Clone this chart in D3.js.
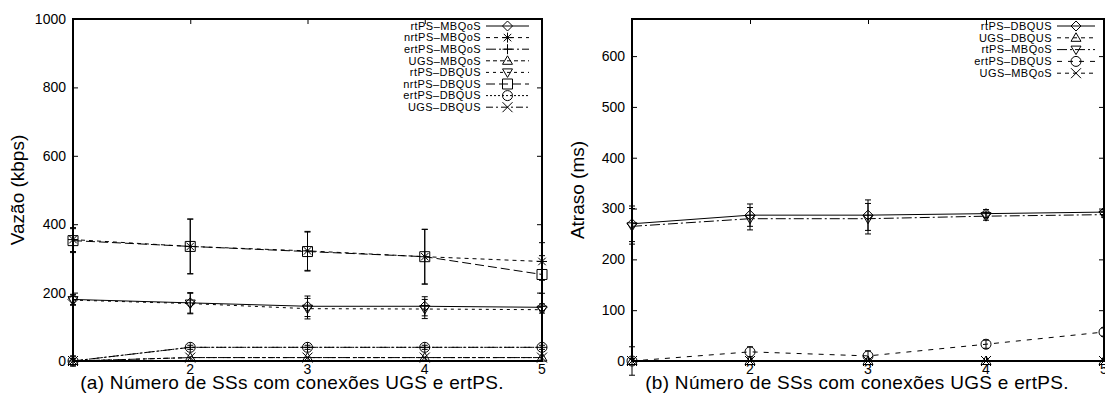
<!DOCTYPE html>
<html><head><meta charset="utf-8">
<script src="https://cdn.jsdelivr.net/npm/d3@7"></script>
<style>
html,body{margin:0;padding:0;background:#fff;}
svg{display:block;font-family:"Liberation Sans",Arial,Helvetica,sans-serif;}
</style></head>
<body><svg id="c" width="1105" height="394"></svg>
<script>
// ---------- data ----------
const xValues = [1, 2, 3, 4, 5];
const xTickLabels = [2, 3, 4, 5];
const yTicksA = [0, 200, 400, 600, 800, 1000];
const yTicksB = [0, 100, 200, 300, 400, 500, 600];

// Panel (a): Vazão (kbps)
const rtPS_MBQoS_a  = [180, 170, 160, 160, 157];
const nrtPS_MBQoS_a = [355, 335, 322, 305, 291];
const ertPS_MBQoS_a = [0, 40, 40, 40, 40];
const UGS_MBQoS_a   = [0, 10, 10, 10, 10];
const rtPS_DBQUS_a  = [178, 168, 153, 152, 150];
const nrtPS_DBQUS_a = [352, 335, 320, 305, 253];
const ertPS_DBQUS_a = [0, 40, 40, 40, 40];
const UGS_DBQUS_a   = [0, 10, 10, 10, 10];
const nrtPS_err_a   = [35, 80, 57, 80, 55];
const rtPS_err_a    = [15, 30, 30, 28, 10];
const small_err_a   = [15, 6, 6, 6, 6];

// Panel (b): Atraso (ms)
const rtPS_DBQUS_b  = [270, 287, 287, 290, 293];
const UGS_DBQUS_b   = [0, 0, 0, 0, 0];
const rtPS_MBQoS_b  = [265, 280, 280, 285, 288];
const ertPS_DBQUS_b = [0, 18, 10, 33, 57];
const UGS_MBQoS_b   = [0, 0, 0, 0, 0];
const rtPS_err_b    = [35, 22, 30, 8, 5];
const small_err_b   = [28, 10, 10, 8, 8];

const seriesA = [
  {name: "rtPS\u2013MBQoS",  v: rtPS_MBQoS_a,  dash: null,       sym: "diamond", err: rtPS_err_a},
  {name: "nrtPS\u2013MBQoS", v: nrtPS_MBQoS_a, dash: "4,4",      sym: "star",    err: nrtPS_err_a},
  {name: "ertPS\u2013MBQoS", v: ertPS_MBQoS_a, dash: "10,3,2,3", sym: "plus",    err: small_err_a},
  {name: "UGS\u2013MBQoS",   v: UGS_MBQoS_a,   dash: "4,3",      sym: "tri",     err: null},
  {name: "rtPS\u2013DBQUS",  v: rtPS_DBQUS_a,  dash: "3,4",      sym: "itri",    err: rtPS_err_a},
  {name: "nrtPS\u2013DBQUS", v: nrtPS_DBQUS_a, dash: "9,4",      sym: "square",  err: nrtPS_err_a},
  {name: "ertPS\u2013DBQUS", v: ertPS_DBQUS_a, dash: "2,2",      sym: "circle",  err: null},
  {name: "UGS\u2013DBQUS",   v: UGS_DBQUS_a,   dash: "7,3,2,3",  sym: "x",       err: null}
];
const seriesB = [
  {name: "rtPS\u2013DBQUS",  v: rtPS_DBQUS_b,  dash: null,       sym: "diamond", err: rtPS_err_b},
  {name: "UGS\u2013DBQUS",   v: UGS_DBQUS_b,   dash: "4,4",      sym: "tri",     err: null},
  {name: "rtPS\u2013MBQoS",  v: rtPS_MBQoS_b,  dash: "10,3,2,3", sym: "itri",    err: rtPS_err_b},
  {name: "ertPS\u2013DBQUS", v: ertPS_DBQUS_b, dash: "5,6",      sym: "circle",  err: small_err_b},
  {name: "UGS\u2013MBQoS",   v: UGS_MBQoS_b,   dash: "4,4",      sym: "x",       err: null}
];

// ---------- drawing ----------
const svg = d3.select("#c");

function symbol(g, type, x, y) {
  const s = 5;
  const p = d3.path();
  const el = g.append("path").attr("fill", "none").attr("stroke", "#000").attr("stroke-width", 1);
  switch (type) {
    case "diamond": p.moveTo(x, y - s); p.lineTo(x + s, y); p.lineTo(x, y + s); p.lineTo(x - s, y); p.closePath(); break;
    case "star": p.moveTo(x - s, y); p.lineTo(x + s, y); p.moveTo(x, y - s); p.lineTo(x, y + s);
      p.moveTo(x - s * .75, y - s * .75); p.lineTo(x + s * .75, y + s * .75); p.moveTo(x - s * .75, y + s * .75); p.lineTo(x + s * .75, y - s * .75); break;
    case "plus": p.moveTo(x - s, y); p.lineTo(x + s, y); p.moveTo(x, y - s); p.lineTo(x, y + s); break;
    case "tri": p.moveTo(x, y - s); p.lineTo(x + s, y + s * .7); p.lineTo(x - s, y + s * .7); p.closePath(); break;
    case "itri": p.moveTo(x, y + s); p.lineTo(x + s, y - s * .7); p.lineTo(x - s, y - s * .7); p.closePath(); break;
    case "square": p.rect(x - s, y - s, 2 * s, 2 * s); break;
    case "circle": p.arc(x, y, s, 0, 2 * Math.PI); break;
    case "x": p.moveTo(x - s, y - s); p.lineTo(x + s, y + s); p.moveTo(x - s, y + s); p.lineTo(x + s, y - s); break;
  }
  el.attr("d", p.toString());
}

function panel(opt) {
  const {x0, x1, y0, y1, yMax, yTicks, series, ylabel, xlabel, ylabelX, xlabelX, legendRight, sampleW, rowH} = opt;
  const x = d3.scaleLinear().domain([1, 5]).range([x0, x1]);
  const y = d3.scaleLinear().domain([0, yMax]).range([y1, y0]);
  const g = svg.append("g");

  // y axis (left, ticks inward)
  const yAxis = g.append("g").attr("transform", `translate(${x0},0)`)
    .call(d3.axisRight(y).tickValues(yTicks).tickSize(5).tickFormat(""));
  yAxis.select(".domain").remove();
  g.selectAll(null).data(yTicks).enter().append("text")
    .attr("x", x0 - 7).attr("y", d => y(d)).attr("dy", "0.35em")
    .attr("text-anchor", "end").attr("font-size", 14).text(d => d);
  // mirror ticks on right
  const yAxisR = g.append("g").attr("transform", `translate(${x1},0)`)
    .call(d3.axisLeft(y).tickValues(yTicks).tickSize(5).tickFormat(""));
  yAxisR.select(".domain").remove();
  // x axis ticks (bottom inward, top mirror)
  const xb = g.append("g").attr("transform", `translate(0,${y1})`)
    .call(d3.axisTop(x).tickValues(xValues).tickSize(5).tickFormat(""));
  xb.select(".domain").remove();
  const xt = g.append("g").attr("transform", `translate(0,${y0})`)
    .call(d3.axisBottom(x).tickValues(xValues).tickSize(5).tickFormat(""));
  xt.select(".domain").remove();
  g.selectAll(null).data(xTickLabels).enter().append("text")
    .attr("x", d => x(d)).attr("y", y1 + 13).attr("text-anchor", "middle")
    .attr("font-size", 14).text(d => d);

  // data
  const line = d3.line().x((d, i) => x(xValues[i])).y(d => y(d));
  series.forEach(s => {
    g.append("path").attr("d", line(s.v)).attr("fill", "none").attr("stroke", "#000")
      .attr("stroke-width", 1).attr("stroke-dasharray", s.dash);
    if (s.err) {
      s.v.forEach((v, i) => {
        const cx = x(xValues[i]);
        const lo = y(v - s.err[i]), hi = y(v + s.err[i]);
        g.append("line").attr("x1", cx).attr("x2", cx).attr("y1", lo).attr("y2", hi).attr("stroke", "#000");
        g.append("line").attr("x1", cx - 3).attr("x2", cx + 3).attr("y1", lo).attr("y2", lo).attr("stroke", "#000");
        g.append("line").attr("x1", cx - 3).attr("x2", cx + 3).attr("y1", hi).attr("y2", hi).attr("stroke", "#000");
      });
    }
    s.v.forEach((v, i) => symbol(g, s.sym, x(xValues[i]), y(v)));
  });

  // frame
  g.append("rect").attr("x", x0).attr("y", y0).attr("width", x1 - x0).attr("height", y1 - y0)
    .attr("fill", "none").attr("stroke", "#000").attr("stroke-width", 2);

  // legend
  series.forEach((s, i) => {
    const ly = y0 + 7 + i * rowH;
    g.append("text").attr("x", legendRight).attr("y", ly).attr("dy", "0.35em")
      .attr("text-anchor", "end").attr("font-size", 11).attr("letter-spacing", 0.45).text(s.name);
    g.append("line").attr("x1", legendRight + 5).attr("x2", legendRight + 5 + sampleW).attr("y1", ly).attr("y2", ly)
      .attr("stroke", "#000").attr("stroke-dasharray", s.dash);
    symbol(g, s.sym, legendRight + 5 + sampleW / 2, ly);
  });

  // labels
  g.append("text").attr("transform", `translate(${ylabelX},${(y0 + y1) / 2}) rotate(-90)`)
    .attr("text-anchor", "middle").attr("font-size", 19).text(ylabel);
  g.append("text").attr("x", xlabelX).attr("y", y1 + 28).attr("text-anchor", "middle")
    .attr("font-size", 19).attr("letter-spacing", 0.3).text(xlabel);
}

panel({x0: 73, x1: 542, y0: 19, y1: 361, yMax: 1000, yTicks: yTicksA, series: seriesA,
  ylabel: "Vazão (kbps)", xlabel: "(a) Número de SSs com conexões UGS e ertPS.",
  ylabelX: 24, xlabelX: 292, legendRight: 481, sampleW: 43, rowH: 11.6});
panel({x0: 632, x1: 1104, y0: 19, y1: 361, yMax: 673, yTicks: yTicksB, series: seriesB,
  ylabel: "Atraso (ms)", xlabel: "(b) Número de SSs com conexões UGS e ertPS.",
  ylabelX: 584, xlabelX: 857, legendRight: 1052, sampleW: 38, rowH: 11.8});
</script></body></html>
